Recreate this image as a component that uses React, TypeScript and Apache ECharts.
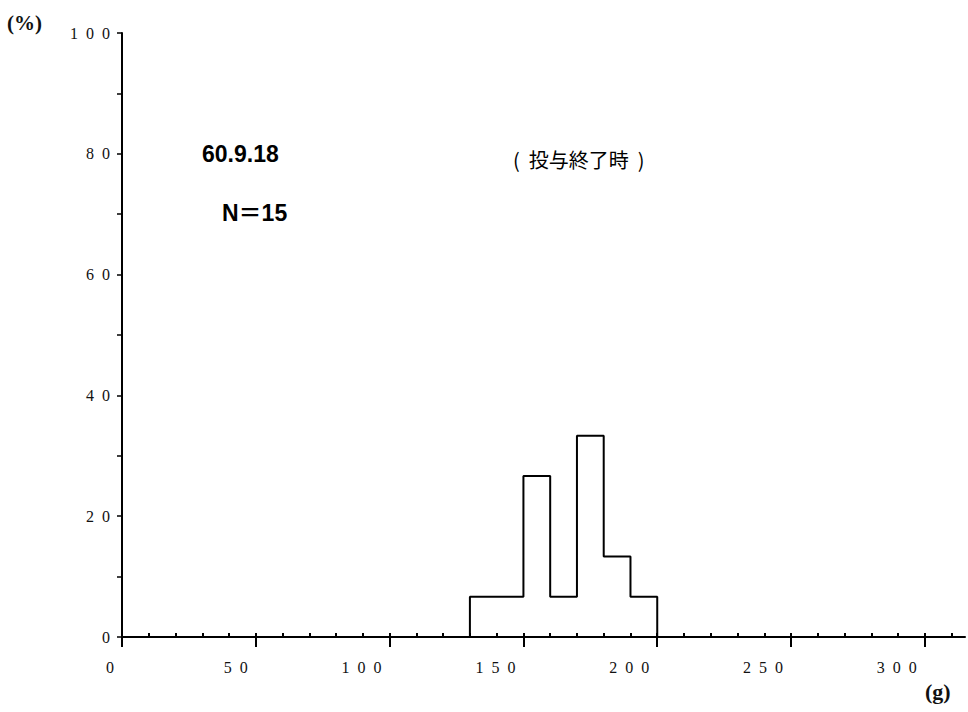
import React, { useEffect, useRef } from "react";
import * as echarts from "echarts";

const binStarts = [130, 140, 150, 160, 170, 180, 190];
const binWidth = 10;
const percents = [6.67, 6.67, 26.67, 6.67, 33.33, 13.33, 6.67];
const xMajorTicks = [0, 50, 100, 150, 200, 250, 300];
const xMinorTicks = [0, 10, 20, 30, 40, 50, 60, 70, 80, 90, 100, 110, 120, 130, 140, 150, 160, 170, 180, 190, 200, 210, 220, 230, 240, 250, 260, 270, 280, 290, 300, 310];
const yLabelStep = 20;
const dateText = "60.9.18";
const nText = "N＝15";
const titleText = "(  投与終了時  )";
const yUnit = "(%)";
const xUnit = "(g)";

const spaced = (v: number) => String(v).split("").join("  ");

export default function App() {
  const ref = useRef<HTMLDivElement>(null);
  useEffect(() => {
    if (!ref.current) return;
    const chart = echarts.init(ref.current, null, { renderer: "svg" });
    const pts: number[][] = [[binStarts[0], 0]];
    binStarts.forEach((s, i) => {
      pts.push([s, percents[i]]);
      pts.push([s + binWidth, percents[i]]);
    });
    pts.push([binStarts[binStarts.length - 1] + binWidth, 0]);

    const labelFont = {
      fontFamily: "Liberation Serif",
      fontSize: 16,
      color: "#111",
    };

    chart.setOption({
      animation: false,
      backgroundColor: "#fff",
      grid: { left: 122, right: 3, top: 33, bottom: 75, containLabel: false },
      xAxis: [
        {
          type: "value",
          min: 0,
          max: 315,
          splitLine: { show: false },
          axisLine: { show: true, onZero: false, lineStyle: { color: "#000", width: 2 } },
          axisTick: { show: true, customValues: xMajorTicks, length: 10, lineStyle: { color: "#000", width: 2 } },
          axisLabel: {
            customValues: xMajorTicks,
            formatter: (v: number) => spaced(v),
            align: "right",
            padding: [0, 8, 0, 0],
            margin: 22,
            ...labelFont,
          },
        },
        {
          type: "value",
          min: 0,
          max: 315,
          position: "bottom",
          splitLine: { show: false },
          axisLine: { show: false, onZero: false },
          axisTick: { show: true, inside: true, customValues: xMinorTicks, length: 4, lineStyle: { color: "#000", width: 2 } },
          axisLabel: { show: false },
        },
      ],
      yAxis: {
        type: "value",
        min: 0,
        max: 100,
        interval: 10,
        splitLine: { show: false },
        axisLine: { show: true, lineStyle: { color: "#000", width: 2 } },
        axisTick: { show: true, length: 5, lineStyle: { color: "#000", width: 1.5 } },
        axisLabel: {
          formatter: (v: number) => (v % yLabelStep === 0 ? spaced(v) : ""),
          margin: 12,
          ...labelFont,
        },
      },
      series: [
        {
          type: "line",
          xAxisIndex: 0,
          data: pts,
          symbol: "none",
          clip: false,
          lineStyle: { color: "#000", width: 2 },
        },
      ],
      graphic: [
        {
          type: "text",
          left: 7,
          top: 12,
          style: { text: yUnit, font: "bold 21px 'Liberation Serif'", fill: "#111" },
        },
        {
          type: "text",
          left: 925,
          top: 680,
          style: { text: xUnit, font: "bold 22px 'Liberation Serif'", fill: "#111" },
        },
        {
          type: "text",
          left: 202,
          top: 142,
          style: { text: dateText, font: "bold 23px 'Liberation Sans'", fill: "#000" },
        },
        {
          type: "text",
          left: 222,
          top: 201,
          style: { text: nText, font: "bold 23px 'Liberation Sans', 'Noto Sans CJK JP'", fill: "#000" },
        },
        {
          type: "text",
          left: 513,
          top: 149,
          style: { text: titleText, font: "20px 'Noto Sans CJK JP'", fill: "#000" },
        },
      ],
    });
    return () => chart.dispose();
  }, []);
  return <div ref={ref} style={{ width: 968, height: 712, position: "absolute", left: 0, top: 0 }} />;
}
